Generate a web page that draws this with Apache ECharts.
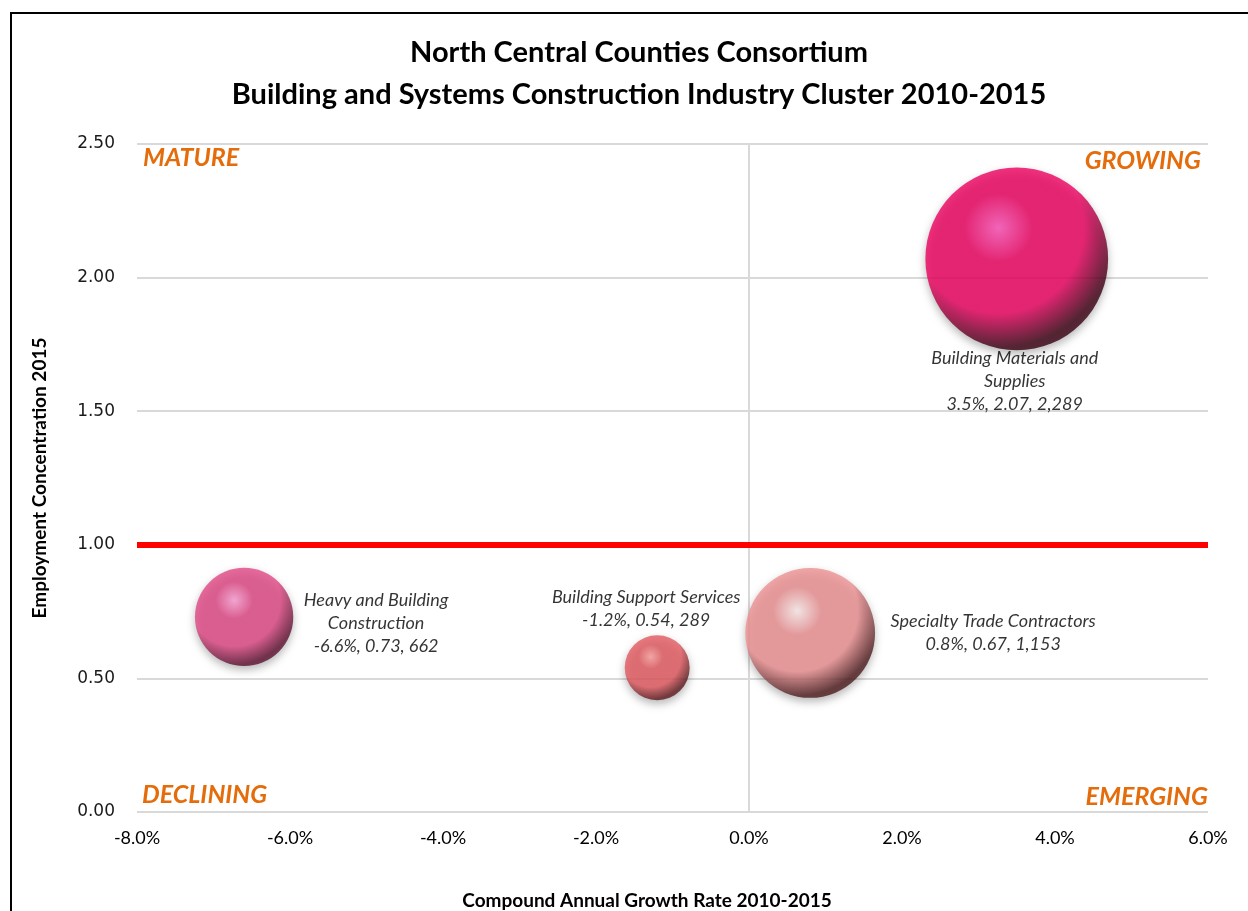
<!DOCTYPE html>
<html>
<head>
<meta charset="utf-8">
<title>Building and Systems Construction Industry Cluster 2010-2015</title>
<script src="https://cdn.jsdelivr.net/npm/echarts@6/dist/echarts.min.js"></script>
<style>
  html, body { margin: 0; padding: 0; background: #ffffff; }
  #chart { width: 1248px; height: 911px; }
</style>
</head>
<body>
<div id="chart"></div>
<script>
// Industry clusters: growth rate (%), employment concentration, jobs
const industries = [
  'Heavy and Building\nConstruction',
  'Building Support Services',
  'Specialty Trade Contractors',
  'Building Materials and\nSupplies'
];
const growthRate = [-6.6, -1.2, 0.8, 3.5];
const concentration = [0.73, 0.54, 0.67, 2.07];
const employment = [662, 289, 1153, 2289];

// Axis ranges
const xTicks = [-8, -6, -4, -2, 0, 2, 4, 6];
const yTicks = [0, 0.5, 1, 1.5, 2, 2.5];
const benchmark = 1.0;

// Sphere shading per bubble: highlight, body, shadow edge
const palettes = [
  ['#ffa0d6', '#e24886', '#5e1030'],
  ['#ffa0a0', '#e45a60', '#5e1a1e'],
  ['#ffeeee', '#ee9092', '#4e1c1e'],
  ['#ff50b8', '#ee0060', '#3a0012']
];
const labelOffsets = [[132, 6], [-11, -59], [183, 0], [-2, 122]];

function sphere(p) {
  return {
    type: 'radial', x: 0.4, y: 0.33, r: 0.78,
    colorStops: [
      { offset: 0, color: p[0] },
      { offset: 0.24, color: p[1] },
      { offset: 0.6, color: p[1] },
      { offset: 0.84, color: p[2] },
      { offset: 1, color: p[2] }
    ]
  };
}

const bubbleData = industries.map((name, i) => ({
  name: name,
  value: [growthRate[i], concentration[i], employment[i]],
  itemStyle: {
    color: sphere(palettes[i]),
    shadowBlur: 8,
    shadowOffsetY: 4,
    shadowColor: 'rgba(0,0,0,0.35)'
  },
  label: { offset: labelOffsets[i] }
}));

const chart = echarts.init(document.getElementById('chart'));

const quadrantStyle = {
  fill: '#e46c0a',
  font: 'italic bold 25px Lato, "Open Sans", sans-serif'
};

chart.setOption({
  backgroundColor: '#ffffff',
  animation: false,
  title: [
    {
      text: 'North Central Counties Consortium\nBuilding and Systems Construction Industry Cluster 2010-2015',
      left: 634, top: 27, textAlign: 'center',
      textStyle: {
        fontFamily: 'Lato, "Open Sans", sans-serif',
        fontWeight: 'bold', fontSize: 29, lineHeight: 42, color: '#000000'
      }
    },
    {
      text: 'Compound Annual Growth Rate 2010-2015',
      left: 642, top: 886, textAlign: 'center',
      textStyle: {
        fontFamily: 'Lato, "Open Sans", sans-serif',
        fontWeight: 'bold', fontSize: 19, color: '#000000'
      }
    }
  ],
  grid: { left: 137, right: 40, top: 144, bottom: 99 },
  xAxis: {
    type: 'value',
    min: xTicks[0], max: xTicks[xTicks.length - 1], interval: 2,
    axisLine: { show: false },
    axisTick: { show: false },
    splitLine: { show: false },
    axisLabel: {
      margin: 17, color: '#000000', fontSize: 18,
      fontFamily: 'Lato, "Liberation Sans", sans-serif',
      formatter: v => v.toFixed(1) + '%'
    }
  },
  yAxis: {
    type: 'value',
    min: yTicks[0], max: yTicks[yTicks.length - 1], interval: 0.5,
    name: 'Employment Concentration 2015',
    nameLocation: 'middle', nameGap: 88, nameRotate: 90,
    nameTextStyle: {
      fontFamily: 'Lato, "Open Sans", sans-serif',
      fontWeight: 'bold', fontSize: 19, color: '#000000'
    },
    axisLine: { show: false },
    axisTick: { show: false },
    splitLine: { lineStyle: { color: '#d9d9d9', width: 2 } },
    axisLabel: {
      margin: 22, color: '#1a1a1a', fontSize: 17,
      fontFamily: '"DejaVu Sans", Verdana, sans-serif',
      formatter: v => v.toFixed(2)
    }
  },
  series: [
    {
      type: 'scatter',
      data: bubbleData,
      symbolSize: v => 3.82 * Math.sqrt(v[2]),
      z: 5,
      label: {
        show: true,
        position: 'inside',
        align: 'center',
        verticalAlign: 'middle',
        color: '#000000',
        fontStyle: 'italic',
        fontSize: 18,
        lineHeight: 23,
        fontFamily: 'Lato, "Open Sans", sans-serif',
        formatter: p => {
          const v = p.value;
          return p.name + '\n' + v[0].toFixed(1) + '%, ' + v[1].toFixed(2) + ', ' +
            v[2].toLocaleString('en-US');
        }
      },
      markLine: {
        silent: true,
        symbol: 'none',
        label: { show: false },
        z: 2,
        data: [
          { xAxis: 0, lineStyle: { color: '#d9d9d9', width: 2, type: 'solid' } },
          { yAxis: benchmark, lineStyle: { color: '#ff0000', width: 6, type: 'solid' } }
        ]
      }
    }
  ],
  graphic: [
    { type: 'polyline', shape: { points: [[11, 911], [11, 13], [1248, 13]] },
      style: { stroke: '#000000', lineWidth: 2, fill: null }, z: 100 },
    { type: 'text', left: 143, top: 145, style: Object.assign({ text: 'MATURE' }, quadrantStyle) },
    { type: 'text', right: 47, top: 148, style: Object.assign({ text: 'GROWING' }, quadrantStyle) },
    { type: 'text', left: 142, top: 782, style: Object.assign({ text: 'DECLINING' }, quadrantStyle) },
    { type: 'text', right: 40, top: 784, style: Object.assign({ text: 'EMERGING' }, quadrantStyle) }
  ]
});
</script>
</body>
</html>
